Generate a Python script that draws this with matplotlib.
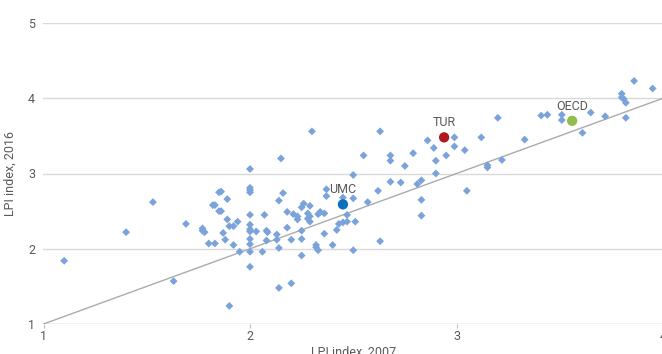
import numpy as np
import matplotlib
matplotlib.use("Agg")
import matplotlib.pyplot as plt

plt.rcParams['font.family'] = ['Liberation Sans Narrow', 'Roboto', 'DejaVu Sans']

# LPI scores per country, 2007 (x) vs 2016 (y)
lpi_2007 = [
    1.10, 1.40, 1.53, 1.63, 1.69, 1.77, 1.77, 1.78, 1.80, 1.83, 1.83, 1.85, 1.85,
    2.00, 2.00, 2.00, 2.00, 1.86, 1.89, 1.82, 1.86, 1.89, 1.90, 1.92, 1.94, 1.87,
    1.88, 2.00, 2.07, 2.00, 2.00, 2.00, 2.03, 2.08, 2.085, 2.00, 2.08, 2.00, 1.92,
    1.95, 2.00, 2.06, 2.00, 1.90,
    2.30, 2.15, 2.63, 2.55, 2.68, 2.68, 2.79, 2.86, 2.89, 2.90, 2.90, 2.75, 2.68,
    2.73, 2.62, 2.50, 2.37, 2.37, 2.81, 2.83, 2.83, 2.83, 2.57, 2.63, 2.50, 2.40,
    2.16, 2.14, 2.18, 2.21, 2.23, 2.23, 2.26, 2.25, 2.29, 2.28, 2.29, 2.28, 2.33,
    2.34, 2.36, 2.29, 2.18, 2.25, 2.13, 2.13, 2.20, 2.25, 2.36, 2.43, 2.42, 2.32,
    2.32, 2.33, 2.14, 2.25, 2.45, 2.47, 2.51, 2.47, 2.45, 2.50, 2.14, 2.20,
    2.99, 2.99, 2.95, 3.04, 3.12, 3.20, 3.15, 3.15, 3.22, 3.05, 3.33, 3.41, 3.44,
    3.51, 3.51, 3.61, 3.65, 3.72, 3.80, 3.80, 3.81, 3.82, 3.82, 3.86, 3.95,
]
lpi_2016 = [
    1.84, 2.22, 2.62, 1.57, 2.33, 2.27, 2.24, 2.22, 2.07, 2.07, 2.58, 2.75, 2.50,
    3.06, 2.81, 2.78, 2.75, 2.76, 2.66, 2.58, 2.50, 2.39, 2.30, 2.30, 2.36, 2.21,
    2.12, 2.45, 2.45, 2.32, 2.26, 2.23, 2.23, 2.24, 2.22, 2.13, 2.11, 2.06, 2.05,
    1.96, 1.96, 1.96, 1.76, 1.24,
    3.56, 3.20, 3.56, 3.24, 3.24, 3.17, 3.27, 3.44, 3.34, 3.17, 3.00, 3.10, 2.89,
    2.88, 2.77, 2.98, 2.79, 2.70, 2.86, 2.91, 2.65, 2.44, 2.62, 2.10, 1.98, 2.05,
    2.74, 2.64, 2.49, 2.46, 2.43, 2.39, 2.60, 2.55, 2.57, 2.47, 2.43, 2.40, 2.46,
    2.49, 2.47, 2.36, 2.28, 2.24, 2.19, 2.12, 2.12, 2.13, 2.20, 2.33, 2.25, 2.05,
    2.02, 1.98, 2.01, 1.91, 2.35, 2.36, 2.36, 2.45, 2.68, 2.67, 1.48, 1.54,
    3.48, 3.36, 3.24, 3.31, 3.48, 3.74, 3.11, 3.08, 3.18, 2.77, 3.45, 3.77, 3.78,
    3.71, 3.78, 3.54, 3.81, 3.76, 4.06, 4.01, 3.99, 3.94, 3.74, 4.23, 4.13,
]

groups = ['TUR', 'UMC', 'OECD']
group_2007 = [2.94, 2.45, 3.56]
group_2016 = [3.48, 2.59, 3.70]
group_colors = ['#B0191E', '#0A70BE', '#92BD4C']

fig = plt.figure(figsize=(6.62, 3.54), dpi=100)
ax = fig.add_axes([43.5 / 662, 30 / 354, 619.5 / 662, 301 / 354])

ax.set_xlim(1, 4)
ax.set_ylim(1, 5)

for yv in [2, 3, 4, 5]:
    ax.axhline(yv, color='#d9d9d9', lw=1, zorder=0)
ax.axhline(1, color='#bfbfbf', lw=1, zorder=0)

# 45 degree reference line
ax.plot([1, 4], [1, 4], color='#ababab', lw=1, zorder=1)

ax.scatter(lpi_2007, lpi_2016, marker='D', s=16, color='#7AA3DA',
           edgecolors='none', zorder=2)

for name, gx, gy, c in zip(groups, group_2007, group_2016, group_colors):
    ax.scatter([gx], [gy], s=55, color=c, edgecolors='none', zorder=3)
    ax.text(gx, gy + 0.11, name, ha='center', va='bottom', fontsize=9,
            color='#595959', zorder=4)

for s in ['top', 'right', 'left', 'bottom']:
    ax.spines[s].set_visible(False)

ax.set_xticks([1, 2, 3, 4])
ax.set_yticks([1, 2, 3, 4, 5])
ax.tick_params(axis='x', length=3, color='#bfbfbf', labelcolor='#595959',
               labelsize=9, pad=1)
ax.tick_params(axis='y', length=0, labelcolor='#595959', labelsize=9, pad=6)

ax.set_xlabel('LPI index, 2007', color='#595959', fontsize=9, labelpad=2)
ax.set_ylabel('LPI index, 2016', color='#595959', fontsize=9, labelpad=8)

fig.savefig('out.png', dpi=100)
